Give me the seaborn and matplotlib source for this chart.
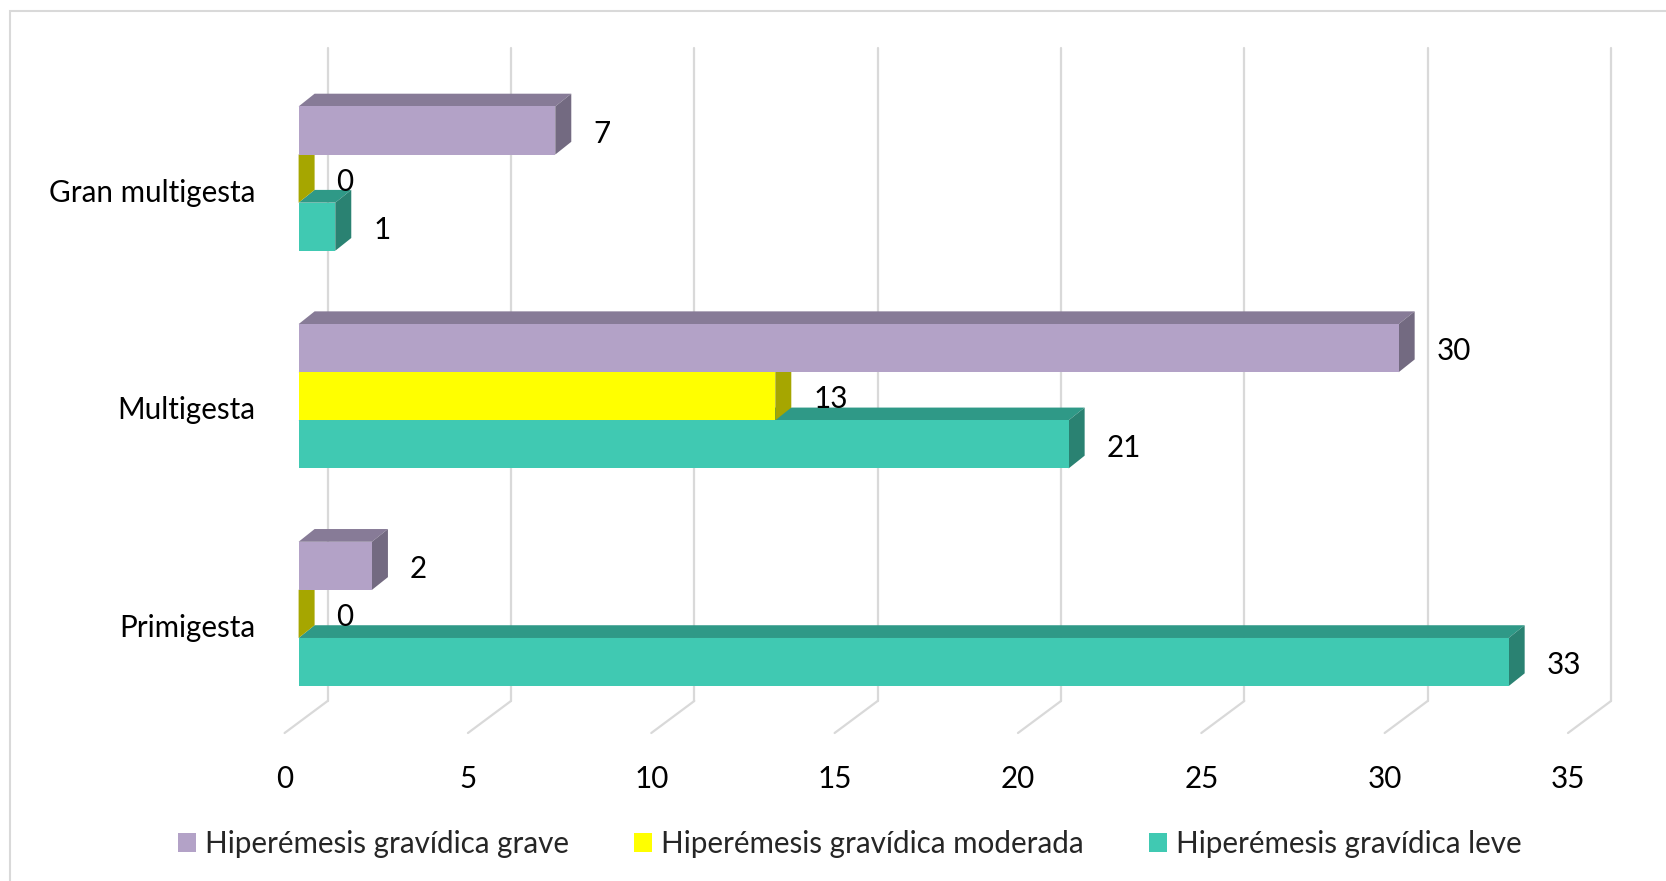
import matplotlib
matplotlib.use("Agg")
import matplotlib.pyplot as plt
from matplotlib.patches import Polygon, Rectangle, Patch
import seaborn as sns
import pandas as pd

categories = ["Gran multigesta", "Multigesta", "Primigesta"]
series = ["Hiperémesis gravídica grave", "Hiperémesis gravídica moderada", "Hiperémesis gravídica leve"]
grave = [7, 30, 2]
moderada = [0, 13, 0]
leve = [1, 21, 33]
x_ticks = [0, 5, 10, 15, 20, 25, 30, 35]

front_colors = ["#B3A2C7", "#FFFF00", "#40C9B2"]
top_colors = ["#877B97", "#BFBF00", "#2F9987"]
side_colors = ["#736A81", "#A6A600", "#2A8272"]

sns.set_theme(style="white")
plt.rcParams["font.family"] = ["Lato", "DejaVu Sans"]
FS = 21.3

rows = []
for s, vals in zip(series, [grave, moderada, leve]):
    for c, v in zip(categories, vals):
        rows.append({"cat": c, "serie": s, "val": v})
df = pd.DataFrame(rows)

W, H, DPI = 1666, 881, 100
fig = plt.figure(figsize=(W / DPI, H / DPI), dpi=DPI)
ax_left_px, ax_right_px, ax_top_px, ax_bot_px = 298.6, 1582.0, 48.0, 701.0
ax = fig.add_axes([ax_left_px / W, (H - ax_bot_px) / H,
                   (ax_right_px - ax_left_px) / W, (ax_bot_px - ax_top_px) / H])

sns.barplot(data=df, y="cat", x="val", hue="serie", order=categories, hue_order=series,
            palette=front_colors, width=0.663, orient="h", saturation=1, linewidth=0,
            legend=False, ax=ax)
ax.set_xlim(0, 35)
ax.set_ylim(2.4, -0.6)
ax.axis("off")

px_x = (ax_right_px - ax_left_px) / 35.0
px_y = (ax_bot_px - ax_top_px) / 3.0
def dxp(p):
    return p / px_x
def dyp(p):  # pixels upward -> data units
    return -p / px_y

# back wall grid lines and floor diagonals
wall_off, floor_off, floor_drop = 29, -14, 32
for t in x_ticks:
    ax.plot([t + dxp(wall_off)] * 2, [2.4, -0.6], color="#D9D9D9", lw=1.6, zorder=0, clip_on=False)
    ax.plot([t + dxp(wall_off), t + dxp(floor_off)], [2.4, 2.4 - dyp(floor_drop)],
            color="#D9D9D9", lw=1.6, zorder=0, clip_on=False)
    ax.text(t + dxp(floor_off), 2.4 - dyp(78), str(t), ha="center", va="center",
            fontsize=FS, color="black")

# 3D faces
ddx, ddy = dxp(16), dyp(12.75)
n = len(series)
for i, cont in enumerate(ax.containers):
    z = 2 + (n - 1 - i) * 0.1
    for p in cont.patches:
        p.set_zorder(3)
        x0, y0 = p.get_x(), p.get_y()
        w, h = p.get_width(), p.get_height()
        x1 = x0 + w
        top = Polygon([(x0, y0), (x1, y0), (x1 + ddx, y0 + ddy), (x0 + ddx, y0 + ddy)],
                      closed=True, facecolor=top_colors[i], edgecolor="none", zorder=z, clip_on=False)
        side = Polygon([(x1, y0), (x1, y0 + h), (x1 + ddx, y0 + h + ddy), (x1 + ddx, y0 + ddy)],
                       closed=True, facecolor=side_colors[i], edgecolor="none", zorder=z + 0.05, clip_on=False)
        ax.add_patch(top)
        ax.add_patch(side)
    anns = ax.bar_label(cont, padding=38 / (DPI / 72), fontsize=FS, color="black")
    for a in anns:
        a.xyann = (a.xyann[0], -2.3)

# category labels
for j, c in enumerate(categories):
    ax.text(dxp(-43.6), j - dyp(14), c, ha="right", va="center", fontsize=FS, color="black")

# legend
handles = [Patch(facecolor=fc, edgecolor="none") for fc in front_colors]
hl = 18 / (FS * DPI / 72)
fig.legend(handles, series, loc="center", bbox_to_anchor=(0.51, 0.042), ncol=3, frameon=False,
           fontsize=FS, handlelength=hl, handleheight=hl, handletextpad=0.3, columnspacing=2.2)

# outer border
fig.patches.append(Rectangle((10 / W, -0.05), 1.1, 1.05 - 11 / H, transform=fig.transFigure,
                             fill=False, edgecolor="#D9D9D9", lw=1.5))

fig.savefig("out.png", dpi=DPI)
